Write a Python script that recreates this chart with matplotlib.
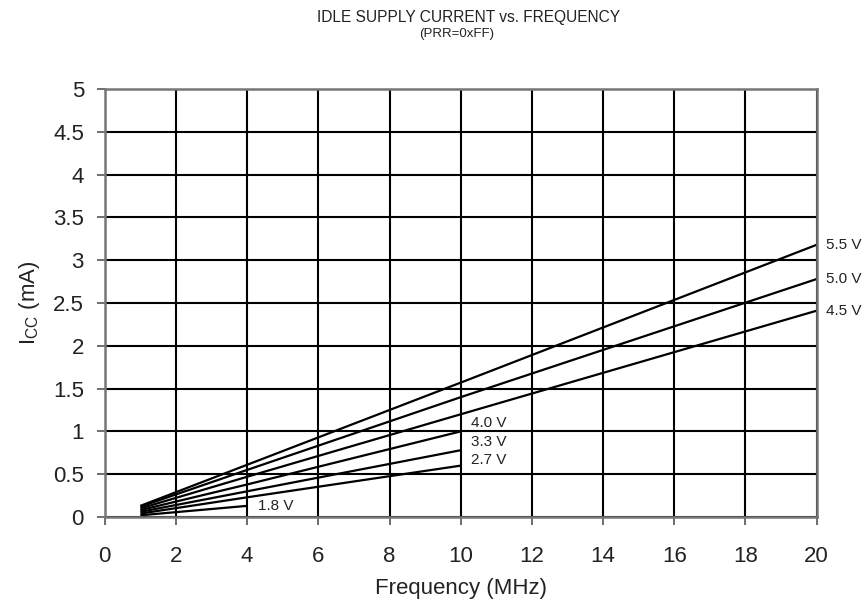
import matplotlib
matplotlib.use("Agg")
import matplotlib.pyplot as plt

plt.rcParams['font.family'] = ['Liberation Sans', 'DejaVu Sans']

# supply voltage labels and curve data (frequency in MHz, Icc in mA)
labels = ["5.5 V", "5.0 V", "4.5 V", "4.0 V", "3.3 V", "2.7 V", "1.8 V"]
freq_full = [1, 4, 10, 20]
freq_10 = [1, 4, 10]
freq_4 = [1, 4]
icc_55 = [0.13, 0.61, 1.57, 3.18]
icc_50 = [0.12, 0.55, 1.40, 2.78]
icc_45 = [0.10, 0.47, 1.20, 2.41]
icc_40 = [0.08, 0.38, 1.00]
icc_33 = [0.06, 0.30, 0.78]
icc_27 = [0.04, 0.23, 0.60]
icc_18 = [0.02, 0.13]

series = [
    (freq_full, icc_55), (freq_full, icc_50), (freq_full, icc_45),
    (freq_10, icc_40), (freq_10, icc_33), (freq_10, icc_27),
    (freq_4, icc_18),
]
# label nudges (vertical, in data units)
nudge = [0, 0, 0, 0.10, 0.10, 0.065, 0.0]

fig = plt.figure(figsize=(8.66, 6.14), dpi=100)
ax = fig.add_axes([0.121, 0.158, 0.822, 0.697])

for (xs, ys), lab, dy in zip(series, labels, nudge):
    ax.plot(xs, ys, color='black', lw=1.6, solid_capstyle='butt')
    dx = 0.25 if xs[-1] == 20 else 0.3
    ax.text(xs[-1] + dx, ys[-1] + dy, lab, fontsize=11, va='center', ha='left',
            color='#222222')

ax.set_xlim(0, 20)
ax.set_ylim(0, 5)
ax.set_xticks(range(0, 21, 2))
ax.set_yticks([0, 0.5, 1, 1.5, 2, 2.5, 3, 3.5, 4, 4.5, 5])
ax.set_yticklabels(["0", "0.5", "1", "1.5", "2", "2.5", "3", "3.5", "4", "4.5", "5"])
ax.grid(True, color='black', lw=1.5)
ax.set_axisbelow(True)
for sp in ax.spines.values():
    sp.set_color('#777777')
    sp.set_linewidth(1.8)
ax.tick_params(direction='out', length=6, width=1.2, color='#555555',
               labelsize=16, labelcolor='#222222')
ax.tick_params(axis='x', pad=15)
ax.tick_params(axis='y', pad=9)

ax.set_xlabel("Frequency (MHz)", fontsize=16, labelpad=8, color='#222222')
ax.set_ylabel(r"I$_{\mathregular{CC}}$ (mA)", fontsize=16, labelpad=8, color='#222222')

fig.text(0.541, 0.972, "IDLE SUPPLY CURRENT vs. FREQUENCY", ha='center', va='center',
         fontsize=11.2, color='#222222')
fig.text(0.527, 0.945, "(PRR=0xFF)", ha='center', va='center', fontsize=9.5,
         color='#222222')

fig.savefig("out.png", dpi=100)
